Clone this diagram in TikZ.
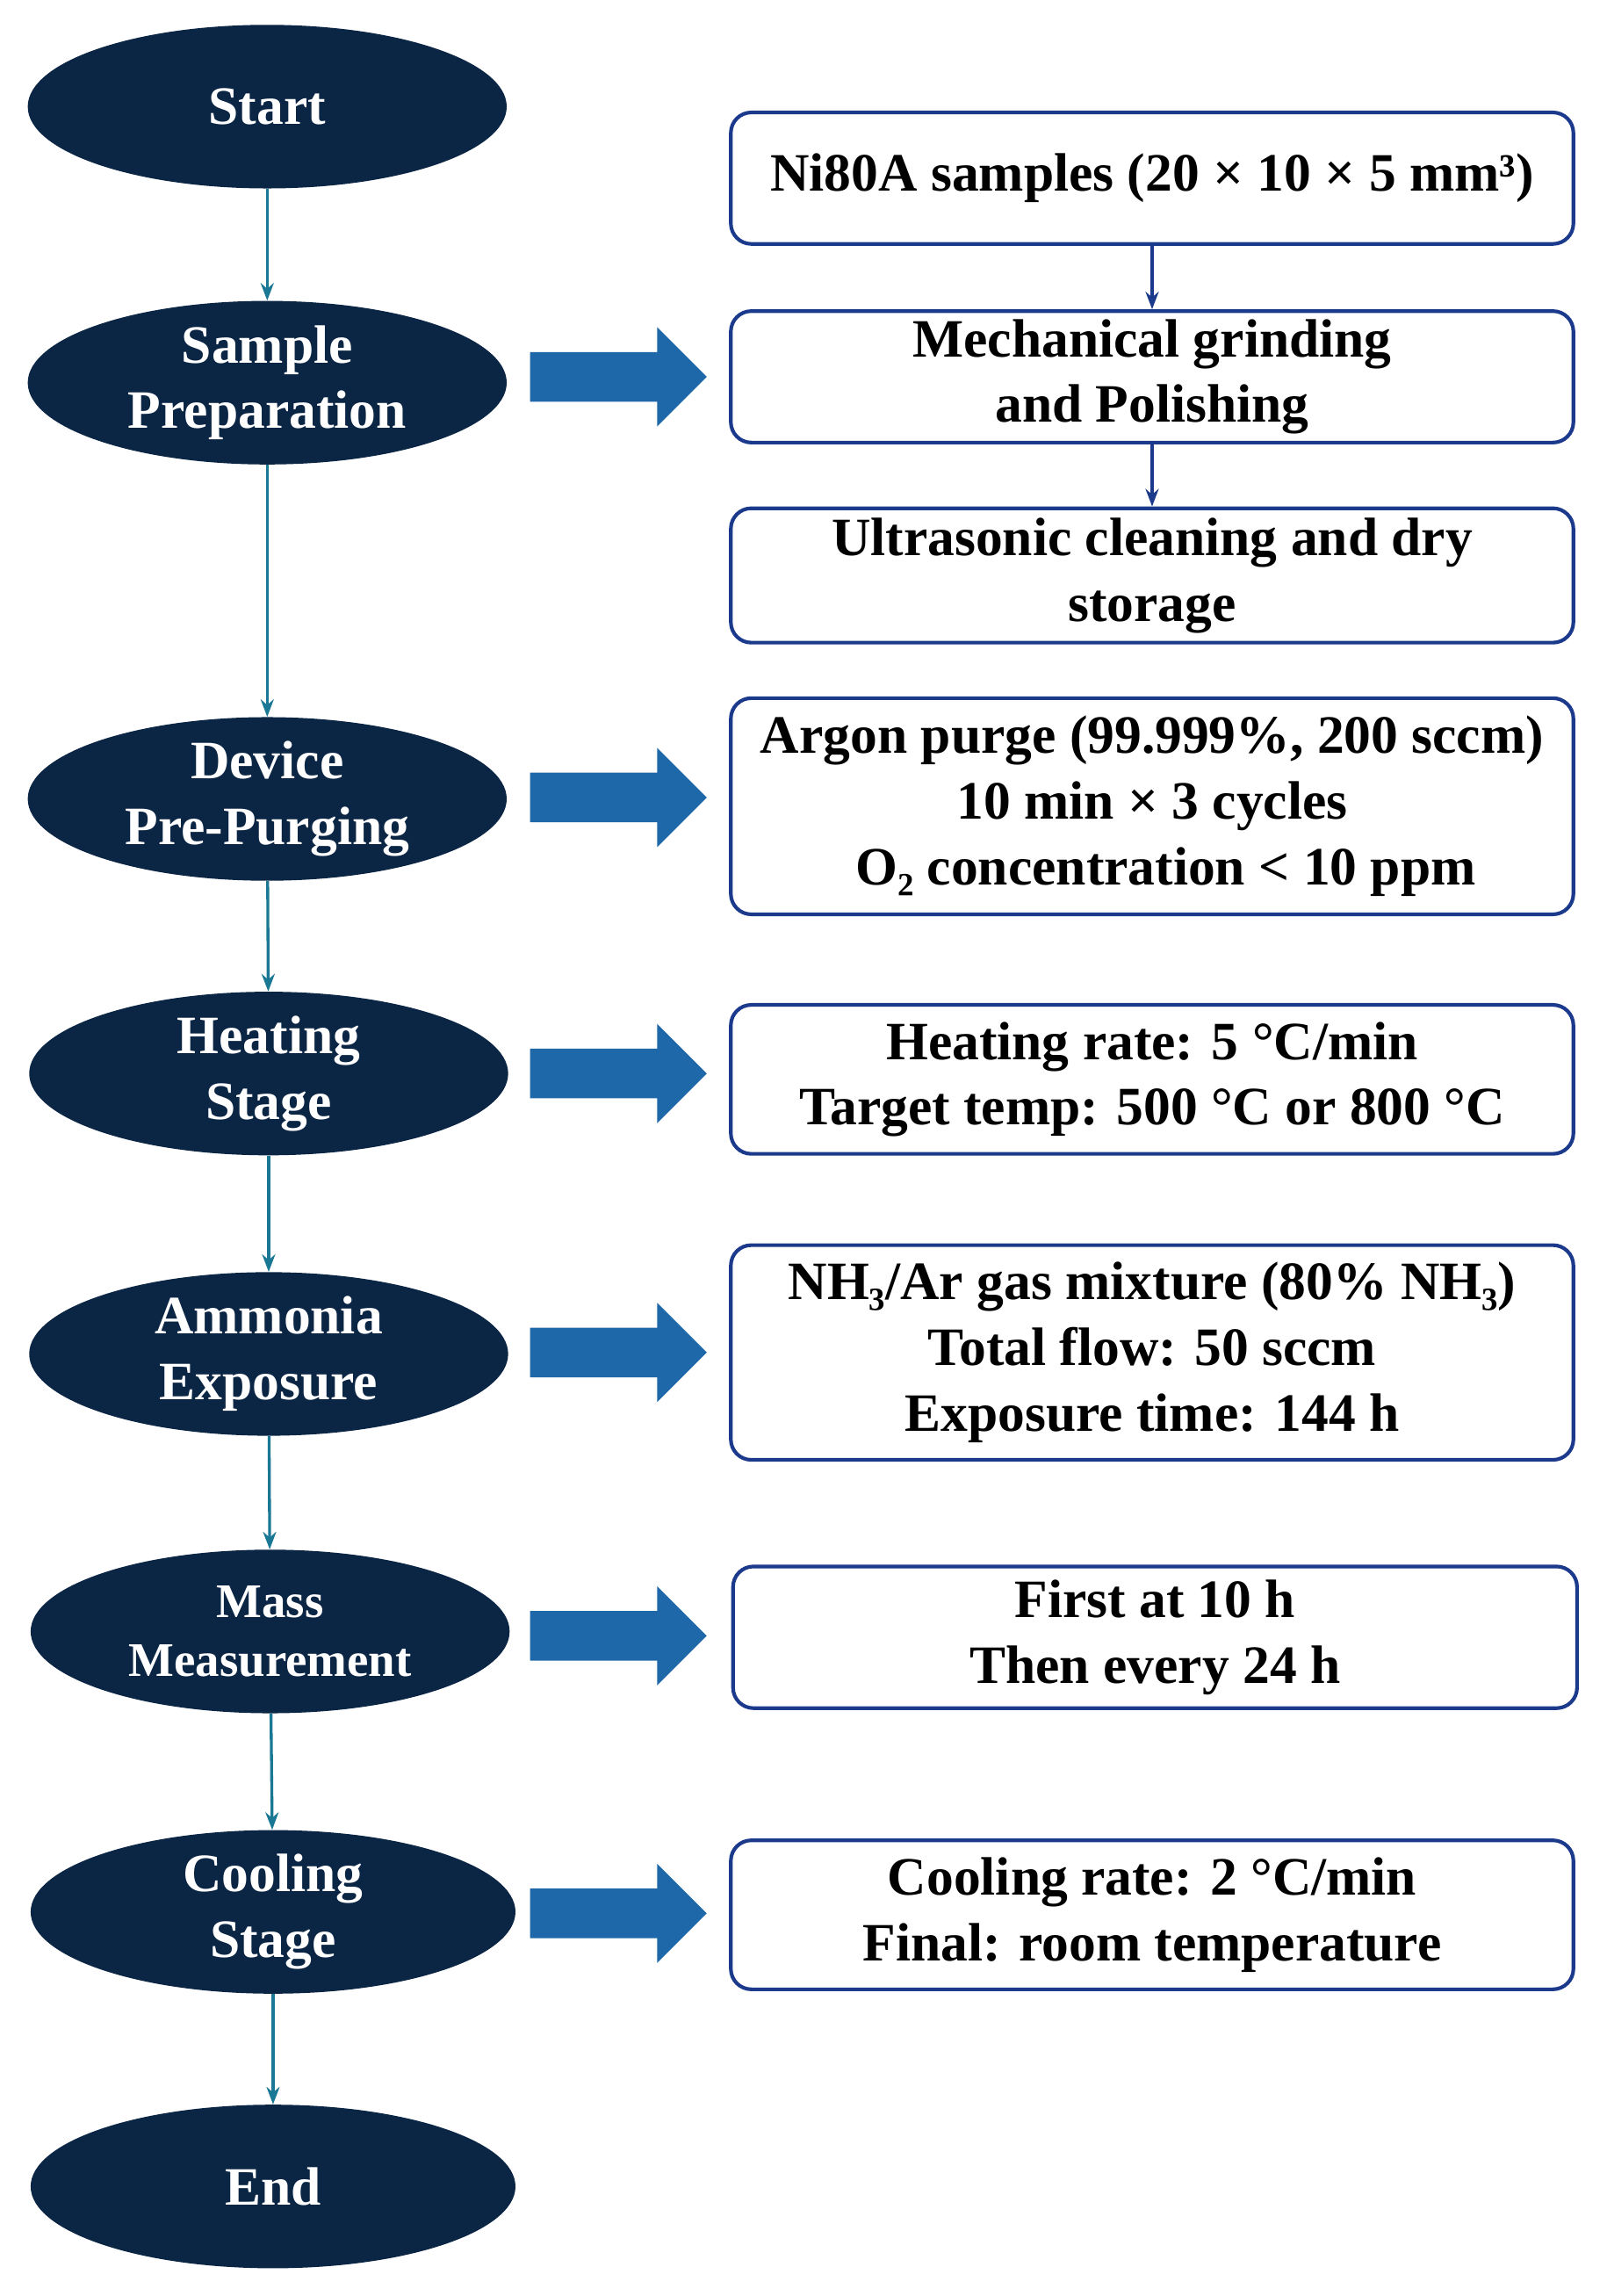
\documentclass[tikz,border=0pt]{standalone}
\usepackage{fontspec}
\setmainfont{Liberation Serif}
\usetikzlibrary{shapes.geometric,arrows.meta}
\definecolor{navy}{HTML}{0B2545}
\definecolor{boxb}{HTML}{1B3A8C}
\definecolor{teal}{HTML}{1B7895}
\definecolor{barrow}{HTML}{1E67A8}
\begin{document}
\begin{tikzpicture}[x=1pt,y=-1pt,
  ell/.style={ellipse,fill=navy,minimum width=328pt,minimum height=112pt,inner sep=0pt,text=white,font=\fontsize{37}{45}\selectfont\bfseries,align=center},
  box/.style={draw=boxb,line width=2.5pt,rounded corners=14pt,fill=white,inner sep=0pt,font=\fontsize{37}{45}\selectfont\bfseries,align=center},
  con/.style={draw=teal,line width=2pt,-{Stealth[length=12pt,width=9pt]}},
  bcon/.style={draw=boxb,line width=2pt,-{Stealth[length=12pt,width=9pt]}}]
\newcommand{\bigarrow}[1]{\fill[barrow] (363,#1-17) -- (450,#1-17) -- (450,#1-34) -- (484,#1) -- (450,#1+34) -- (450,#1+17) -- (363,#1+17) -- cycle;}
\useasboundingbox (0,0) rectangle (1100,1572);
\node[ell] (e1) at (183,73) {Start};
\node[ell] (e2) at (183,262) {Sample\\Preparation};
\node[ell] (e3) at (183,547) {Device\\Pre-Purging};
\node[ell] (e4) at (184,735) {Heating\\Stage};
\node[ell] (e5) at (184,927) {Ammonia\\Exposure};
\node[ell,font=\fontsize{33}{40}\selectfont\bfseries] (e6) at (185,1117) {Mass\\Measurement};
\node[ell,minimum width=332pt] (e7) at (187,1309) {Cooling\\Stage};
\node[ell,minimum width=332pt] (e8) at (187,1497) {End};
\foreach \a/\b in {e1/e2,e2/e3,e3/e4,e4/e5,e5/e6,e6/e7,e7/e8} \draw[con] (\a) -- (\b);
\node[box,minimum width=577pt,minimum height=90pt] (b1) at (789,122) {Ni80A samples (20 × 10 × 5 mm³)};
\node[box,minimum width=577pt,minimum height=90pt] (b2) at (789,258) {Mechanical grinding\\and Polishing};
\node[box,minimum width=577pt,minimum height=92pt] (b3) at (789,394) {Ultrasonic cleaning and dry\\storage};
\node[box,minimum width=577pt,minimum height=148pt] (b4) at (789,552) {Argon purge (99.999\%, 200 sccm)\\10 min × 3 cycles\\\ \ O₂ concentration < 10 ppm};
\node[box,minimum width=577pt,minimum height=102pt] (b5) at (789,739) {Heating rate: 5 °C/min\\Target temp: 500 °C or 800 °C};
\node[box,minimum width=577pt,minimum height=147pt] (b6) at (789,926) {NH₃/Ar gas mixture (80\% NH₃)\\Total flow: 50 sccm\\Exposure time: 144 h};
\node[box,minimum width=578pt,minimum height=97pt] (b7) at (791,1121) {First at 10 h\\Then every 24 h};
\node[box,minimum width=577pt,minimum height=102pt] (b8) at (789,1311) {Cooling rate: 2 °C/min\\Final: room temperature};
\draw[bcon] (b1) -- (b2);
\draw[bcon] (b2) -- (b3);
\bigarrow{258}
\bigarrow{546}
\bigarrow{735}
\bigarrow{926}
\bigarrow{1120}
\bigarrow{1310}
\end{tikzpicture}
\end{document}
